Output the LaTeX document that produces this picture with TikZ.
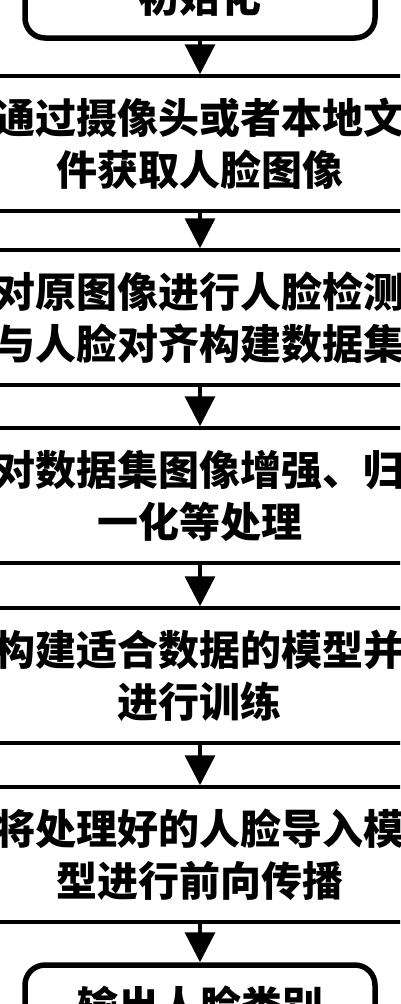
\documentclass[tikz,border=0pt]{standalone}
\usepackage{fontspec}
\newfontfamily\cjk{Noto Sans CJK SC}
\usetikzlibrary{arrows.meta,positioning}
\tikzset{
  stp/.style  = {draw, line width=3.5pt, align=center, text width=412pt,
                 inner xsep=14pt, minimum height=135pt,
                 font=\cjk\bfseries\fontsize{41}{52}\selectfont},
  term/.style = {draw, line width=5.5pt, rounded corners=20pt, align=center,
                 minimum width=350pt, minimum height=82pt,
                 font=\cjk\bfseries\fontsize{41}{52}\selectfont},
  ar/.style   = {-{Triangle[length=30pt,width=30pt]}, line width=3.5pt},
}
\begin{document}
\begin{tikzpicture}[x=1pt, y=-1pt]
  \useasboundingbox (0,0) rectangle (400,1004);
  \clip (0,0) rectangle (400,1004);
  % start and end
  \node[term] (init) at (200,-3) {初始化};
  \node[term] (out) at (200,1006) {输出人脸类别};
  % the steps
  \node[stp] (get)   at (200,143.5) {通过摄像头或者本地文\\件获取人脸图像};
  \node[stp] (det)   at (200,317.5) {对原图像进行人脸检测\\与人脸对齐构建数据集};
  \node[stp] (aug)   at (200,495.5) {对数据集图像增强、归\\一化等处理};
  \node[stp] (train) at (200,675.5) {构建适合数据的模型并\\进行训练};
  \node[stp] (fwd)   at (200,854.5) {将处理好的人脸导入模\\型进行前向传播};
  % arrows
  \draw[ar] (init.south) -- (get.north);
  \draw[ar] (get.south) -- (det.north);
  \draw[ar] (det.south) -- (aug.north);
  \draw[ar] (aug.south) -- (train.north);
  \draw[ar] (train.south) -- (fwd.north);
  \draw[ar] (fwd.south) -- (out.north);
\end{tikzpicture}
\end{document}
